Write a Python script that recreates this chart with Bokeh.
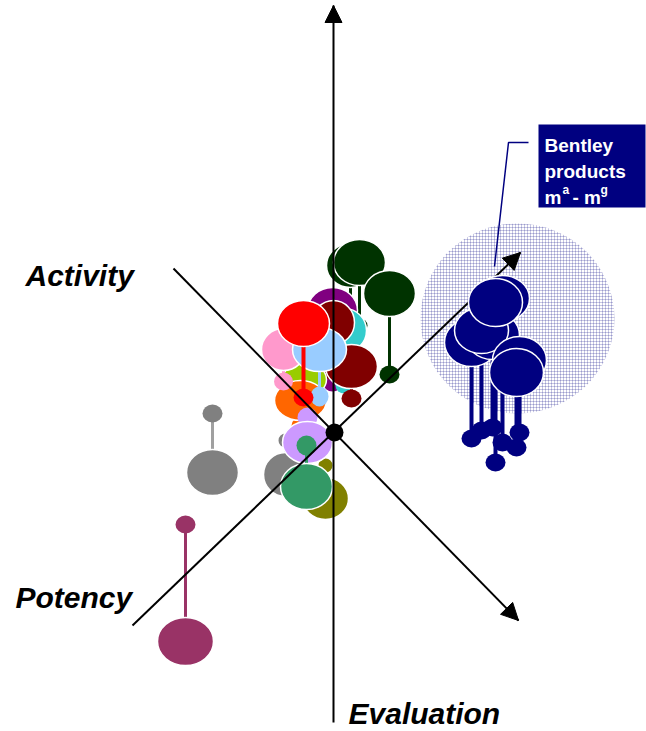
from bokeh.plotting import figure
from bokeh.models import Range1d, Arrow, NormalHead
from bokeh.core.properties import value
from bokeh.embed import file_html
from bokeh.resources import INLINE
import math

FONT = "Liberation Sans"

# ---- products in the projected semantic space (origin = axes crossing) ----
prod_names = ["dg_back", "dg_front", "dg2", "purple", "teal", "maroon_top", "yellowgreen",
              "orange", "pink", "maroon", "lightblue", "red", "gray_c", "olive",
              "lavender", "seagreen", "gray_l", "plum"]
prod_colors = ["#003300", "#003300", "#003300", "#800080", "#33CCCC", "#800000", "#99CC00",
               "#FF6600", "#FF99CC", "#800000", "#99CCFF", "#FF0000", "#808080", "#808000",
               "#CC99FF", "#339966", "#808080", "#993366"]
stem_colors = ["#003300", "#003300", "#003300", "#800080", "#33CCCC", "#800000", "#99CC00",
               "#FF6600", "#FF99CC", "#800000", "#99CCFF", "#FF0000", "#808080", "#808000",
               "#CC99FF", "#339966", "#A0A0A0", "#993366"]
prod_x = [16, 25, 55, -2, 10, -1, -30, -34, -51, 17, -15, -31, -49, -9, -27, -28, -122, -149]
prod_top = [167, 170, 139, 122, 102, 110, 53, 32, 83, 66, 83, 109, -42, -66, -10, -54, -40, -209]
prod_base = [120, 107, 58, 49, 47, 60, 30, 7, 51, 34, 36, 35, -8, -33, 15, -13, 19, -92]
top_w = [48, 52, 52, 50, 44, 42, 44, 52, 44, 52, 54, 52, 44, 46, 50, 52, 52, 56]
top_h = [44, 46, 46, 46, 44, 44, 34, 40, 42, 44, 44, 46, 44, 42, 42, 46, 46, 48]
base_w = [16, 16, 20, 18, 18, 18, 18, 18, 19, 20, 18, 20, 14, 14, 20, 20, 20, 20]
base_h = [14, 14, 18, 16, 16, 16, 16, 16, 18, 18, 20, 18, 14, 14, 20, 20, 18, 18]
stem_w = [3, 3, 3, 3, 3, 3, 3, 3, 3, 3, 3, 4, 3, 3, 3, 3, 3, 3]

# ---- Bentley products m^a - m^g ----
bentley_names = ["m_a", "m_g", "m_b", "m_e", "m_f", "m_c", "m_d"]
bentley_x = [137, 158, 147, 185, 182, 168, 161]
bentley_top = [90, 97, 102, 72, 60, 134, 130]
bentley_base = [-6, 5, 2, 0, -15, -10, -30]
bentley_w = [54, 54, 54, 54, 54, 54, 54]
bentley_h = [48, 48, 46, 48, 48, 46, 48]
BENTLEY_COLOR = "#000080"

# ---- axes (Activity, Evaluation, Potency) ----
axis_names = ["Activity", "Evaluation", "Potency"]
axis_x0 = [-1, -161, -202]
axis_y0 = [-290, 164, -193]
axis_x1 = [-1, 184, 186]
axis_y1 = [427, -188, 180]
label_text = ["Activity", "Potency", "Evaluation"]
label_x = [-309, -319, 14]
label_y = [157, -165, -281]

p = figure(width=646, height=731, x_range=Range1d(-334, 312), y_range=Range1d(-299, 432),
           output_backend="svg", toolbar_location=None, min_border=0)
p.axis.visible = False
p.grid.visible = False
p.outline_line_color = None
p.background_fill_color = "white"
p.border_fill_color = "white"

# shaded cluster area
p.ellipse(x=[183], y=[114], width=[194], height=[190], fill_color=None, line_color=None,
          hatch_pattern="+", hatch_color=BENTLEY_COLOR, hatch_alpha=0.22, hatch_scale=3,
          hatch_weight=1)

# central and left products
for i in range(len(prod_names)):
    p.segment(x0=[prod_x[i]], y0=[prod_top[i]], x1=[prod_x[i]], y1=[prod_base[i]],
              line_color=stem_colors[i], line_width=stem_w[i])
    p.ellipse(x=[prod_x[i]], y=[prod_base[i]], width=[base_w[i]], height=[base_h[i]],
              fill_color=prod_colors[i], line_color=None)
    p.ellipse(x=[prod_x[i]], y=[prod_top[i]], width=[top_w[i]], height=[top_h[i]],
              fill_color=prod_colors[i], line_color="white", line_width=1.5)

# axis lines
p.segment(x0=axis_x0, y0=axis_y0, x1=axis_x1, y1=axis_y1, line_color="black", line_width=2)
for i in range(3):
    dx = axis_x1[i] - axis_x0[i]
    dy = axis_y1[i] - axis_y0[i]
    L = math.hypot(dx, dy)
    p.add_layout(Arrow(end=NormalHead(size=17, fill_color="black", line_color="black"),
                       x_start=axis_x1[i] - 8 * dx / L, y_start=axis_y1[i] - 8 * dy / L,
                       x_end=axis_x1[i], y_end=axis_y1[i], line_alpha=0))
p.ellipse(x=[0], y=[0], width=[18], height=[18], fill_color="black", line_color=None)

# Bentley products
p.segment(x0=bentley_x, y0=bentley_top, x1=bentley_x, y1=bentley_base,
          line_color=BENTLEY_COLOR, line_width=4)
p.ellipse(x=bentley_x, y=bentley_base, width=[20] * len(bentley_x), height=[18] * len(bentley_x),
          fill_color=BENTLEY_COLOR, line_color=None)
for i in range(len(bentley_names)):
    p.ellipse(x=[bentley_x[i]], y=[bentley_top[i]], width=[bentley_w[i]], height=[bentley_h[i]],
              fill_color=BENTLEY_COLOR, line_color="white", line_width=1.5)

# callout
p.line(x=[194, 174, 160], y=[290, 290, 166], line_color=BENTLEY_COLOR, line_width=1.5)
p.quad(left=[204], right=[311], top=[308], bottom=[225], fill_color=BENTLEY_COLOR, line_color=None)
p.text(x=[210, 210, 210, 238], y=[287, 261, 235, 235], text=["Bentley", "products", "m", "- m"],
       text_font=value(FONT), text_font_size="19px", text_font_style="bold",
       text_color="white", text_baseline="alphabetic")
p.text(x=[228, 266], y=[243, 243], text=["a", "g"], text_font=value(FONT),
       text_font_size="12px", text_font_style="bold", text_color="white",
       text_baseline="alphabetic")

# axis labels
p.text(x=label_x, y=label_y, text=label_text, text_font=value(FONT), text_font_size="30px",
       text_font_style="bold italic", text_color="black", text_baseline="alphabetic")

open("out.html", "w").write(file_html(p, INLINE))
